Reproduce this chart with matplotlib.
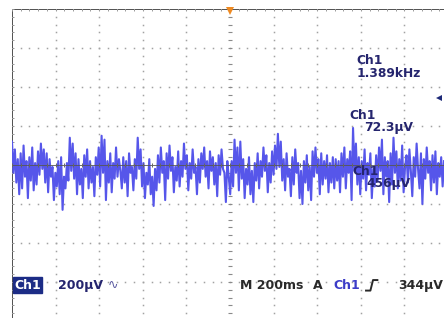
import numpy as np
import matplotlib.pyplot as plt

# scope trace, Ch1 in microvolts (200 uV / div), read by eye across the screen
seg1 = [120, -40, 80, -90, 30, -150, 60, -120, 100, -60, 20, -170, 40, -80, 90, -130, 10, -100, 70, -50,
        110, -20, 80, -90, 60, -140, 30, -60, -10, -180, -40, -110, 20, -150, 40, -230, -60, -120, 10, -80,
        140, -30, 110, -70, 60, -150, 30, -100, -20, -170, 50, -60, 80, -120, 20, -90, -10, -160, 40, -50,
        90, -110, 150, -40, 130, -180, 20, -90, 60, -140, 10, -70, 90, -60, 30]
seg2 = [-30, -120, 40, -90, 20, -160, 60, -40, -10, -130, 30, -70, 140, -20, 80, -110, 10, -170, -40, -100,
        30, -150, -60, -210, -20, -130, 50, -90, 90, -40, 20, -180, 60, -70, 100, -30, 40, -140, -10, -80,
        70, -110, 20, -60, 110, -20, 50, -130, 10, -70, 80, -40, -10, -150, 30, -90, 60, -20, 90, -60,
        20, -120, 70, -30, 40, -100, 10, -160, 50, -50, 80, -20, -40, -190, 20]
seg3 = [-60, -150, 20, -110, 130, -40, 90, -130, 120, -70, 30, -170, -20, -100, 40, -150, -30, -190, 10, -80,
        60, -120, 20, -60, 90, -30, 50, -140, 10, -90, 70, -50, 100, -20, 160, -10, 120, -80, 30, -130,
        60, -60, -20, -160, 40, -100, 80, -40, 10, -170, -30, -200, 20, -90, 50, -130, -10, -180, 70, -60,
        90, -40, 30, -150, 60, -100, 20, -70, 50, -140, 10, -90, 40, -120, 30]
seg4 = [-80, 20, -140, 60, -60, 90, -120, 30, -40, 70, -180, 190, -30, 110, -100, 40, -150, 20, -70, 80,
        -130, 10, -50, 60, -170, -20, -110, 50, -80, 90, -30, 130, -150, 40, -60, 20, -190, 60, -100, 140,
        -40, 70, -120, 30, -80, 100, -140, -10, 50, -90, 80, -30, -160, 40, -60, 110, -20, -120, 60, -200,
        30, -70, 90, -40, 20, -130, 50, -90, 70, -150, 10, -60, 40, -110, 20]
trace_uv = seg1 + seg2 + seg3 + seg4
volts_per_div = 200.0   # uV/div
screen_divs = 9.91      # visible horizontal divisions

fig = plt.figure(figsize=(4.44, 3.18), dpi=100)
ax = fig.add_axes([12 / 444, -3 / 318, 436 / 444, 312 / 318])
ax.set_xlim(0, 10)
ax.set_ylim(-4, 4)
ax.axis("off")

grid_c = "#a2a2a2"
# dotted graticule
dots = np.arange(0, 10.01, 0.2)
vdots = np.arange(-4, 4.01, 0.2)
for gx in range(1, 10):
    if gx != 5:
        ax.plot([gx] * len(vdots), vdots, ls="none", marker="s", ms=1.1, color=grid_c, mew=0)
for gy in range(-3, 4):
    if gy != 0:
        ax.plot(dots, [gy] * len(dots), ls="none", marker="s", ms=1.1, color=grid_c, mew=0)

# center axes with minor ticks
ax.axhline(0, color="#555555", lw=0.6, zorder=3)
ax.plot([5] * len(vdots), vdots, ls="none", marker="_", ms=3.5, color="#8a8a8a", mew=0.8)
ax.plot(dots, [0] * len(dots), ls="none", marker="|", ms=3.5, color="#666666", mew=0.7, zorder=3)

# borders (left and top are visible)
ax.plot([0, 0], [-4, 4], color="#333333", lw=1.2)
ax.plot([0, 10], [4, 4], color="#333333", lw=1.2)
ax.plot(dots, [4] * len(dots), ls="none", marker="|", ms=3, color="#999999", mew=0.7)
ax.plot([0] * len(vdots), vdots, ls="none", marker="_", ms=3, color="#999999", mew=0.7)

# waveform
x = np.linspace(0, screen_divs, len(trace_uv))
y = np.array(trace_uv) / volts_per_div
ax.plot(x, y, color="#5656ea", lw=1.5, zorder=2)

# markers
ax.plot(5, 3.95, marker="v", ms=6, color="#ee8a22", mew=0, clip_on=False)
ax.plot(9.8, 1.72, marker="<", ms=5, color="#1e2a78", mew=0)

navy = "#25256e"
fs = 8.8
ax.text(7.89, 2.68, "Ch1", color=navy, fontsize=fs, fontweight="bold", va="center")
ax.text(7.91, 2.35, "1.389kHz", color=navy, fontsize=fs, fontweight="bold", va="center")
ax.text(7.73, 1.27, "Ch1", color=navy, fontsize=fs, fontweight="bold", va="center")
ax.text(8.07, 0.97, "72.3µV", color=navy, fontsize=fs, fontweight="bold", va="center")
ax.text(7.8, -0.16, "Ch1", color=navy, fontsize=fs, fontweight="bold", va="center")
ax.text(8.12, -0.47, "456µV", color=navy, fontsize=fs, fontweight="bold", va="center")

# bottom readout
bfs = 9
ax.text(0.05, -3.08, "Ch1", color="white", fontsize=bfs, fontweight="bold", va="center",
        bbox=dict(boxstyle="square,pad=0.1", fc="#1c2c86", ec="#1c2c86"))
ax.text(1.06, -3.08, "200µV", color=navy, fontsize=bfs, fontweight="bold", va="center")
ax.text(2.2, -3.08, "∿", color="#5a5aa0", fontsize=bfs, va="center")
ax.text(5.23, -3.08, "M 200ms", color="#2a2a2a", fontsize=bfs, fontweight="bold", va="center")
ax.text(6.9, -3.08, "A", color="#2a2a2a", fontsize=bfs, fontweight="bold", va="center")
ax.text(7.38, -3.08, "Ch1", color="#3c3cc8", fontsize=bfs, fontweight="bold", va="center")
ax.plot([8.12, 8.22, 8.28, 8.38], [-3.22, -3.22, -2.95, -2.95], color="#2a2a2a", lw=1.4)
ax.text(8.85, -3.08, "344µV", color="#2a2a2a", fontsize=bfs, fontweight="bold", va="center")

fig.savefig("out.png", dpi=100)
